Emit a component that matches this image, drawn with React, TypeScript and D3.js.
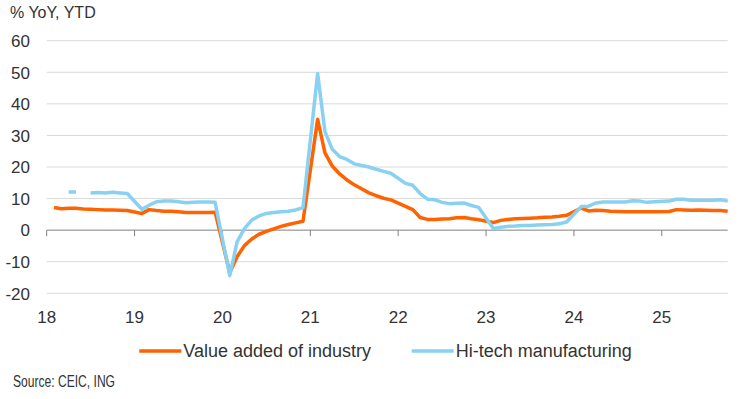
import React from 'react'
import * as d3 from 'd3'

// monthly YTD readings, Feb..Dec each year (Jan is folded into Feb), 2025 runs to Oct
const firstYear = 2018
const yearLabels = ['18', '19', '20', '21', '22', '23', '24', '25']
const yTicks = [-20, -10, 0, 10, 20, 30, 40, 50, 60]

const valueAdded = [
  7.2, 6.8, 6.9, 6.9, 6.7, 6.6, 6.5, 6.4, 6.4, 6.3, 6.2,
  5.3, 6.5, 6.2, 6.0, 6.0, 5.8, 5.6, 5.6, 5.6, 5.6, 5.7,
  -13.5, -8.4, -4.9, -2.8, -1.3, -0.4, 0.4, 1.2, 1.8, 2.3, 2.8,
  35.1, 24.5, 20.3, 17.8, 15.9, 14.4, 13.1, 11.8, 10.9, 10.1, 9.6,
  7.5, 6.5, 4.0, 3.4, 3.4, 3.5, 3.6, 3.9, 4.0, 3.6, 3.3,
  2.4, 3.1, 3.4, 3.6, 3.7, 3.8, 3.9, 4.1, 4.2, 4.4, 4.7,
  7.0, 6.1, 6.3, 6.2, 6.0, 5.9, 5.8, 5.8, 5.8, 5.8, 5.8,
  5.9, 6.5, 6.4, 6.3, 6.4, 6.3, 6.2, 6.2, 6.0,
]

const hiTech: (number | null)[] = [
  null, null, 12.1, 12.1, null, 11.8, 11.9, 11.8, 12.0, 11.8, 11.6,
  6.6, 7.9, 9.0, 9.2, 9.2, 9.0, 8.7, 8.8, 8.9, 8.9, 8.8,
  -14.4, -3.7, 0.5, 3.2, 4.5, 5.3, 5.6, 5.8, 6.0, 6.4, 7.1,
  49.6, 31.2, 25.6, 23.3, 22.4, 21.0, 20.5, 20.0, 19.3, 18.6, 18.0,
  14.8, 14.2, 11.6, 9.8, 9.6, 8.8, 8.4, 8.5, 8.6, 7.8, 7.2,
  0.5, 0.9, 1.2, 1.3, 1.5, 1.5, 1.6, 1.7, 1.8, 2.0, 2.6,
  7.5, 7.6, 8.6, 8.9, 8.9, 8.9, 8.9, 9.3, 9.2, 8.8, 9.0,
  9.2, 9.8, 9.8, 9.5, 9.5, 9.5, 9.5, 9.6, 9.2,
]

const seriesNames = ['Value added of industry', 'Hi-tech manufacturing']
const colors = ['#ff6200', '#89d1f2']

// position in the list -> months since Jan 2018
const monthOf = (i: number) => Math.floor(i / 11) * 12 + 1 + (i % 11)

const App = () => {
  const lastMonth = monthOf(valueAdded.length - 1)
  const x = d3.scaleLinear().domain([0, lastMonth]).range([46.7, 727.7])
  const y = d3.scaleLinear().domain([-20, 60]).range([293.3, 40.7])

  const line = d3
    .line<[number, number | null]>()
    .defined(d => d[1] != null)
    .x(d => x(d[0]))
    .y(d => y(d[1] as number))

  const paths = [valueAdded, hiTech].map(s =>
    line(s.map((v, i) => [monthOf(i), v] as [number, number | null]))
  )

  const font = "'Liberation Sans', Arial, sans-serif"
  const [x0, x1] = x.range()

  return (
    <svg width={750} height={399} style={{ position: 'absolute', left: 0, top: 0 }}
      fontFamily={font} fill="#333">
      <rect width={750} height={399} fill="#fff" />
      <text x={10} y={18} fontSize={16}>% YoY, YTD</text>

      {yTicks.map(t => (
        <g key={t}>
          {t !== 0 && <line x1={x0} x2={x1} y1={y(t)} y2={y(t)} stroke="#d9d9d9" strokeWidth={1} />}
          <text x={30} y={y(t) + 6.3} fontSize={17} textAnchor="end">{t}</text>
        </g>
      ))}

      <line x1={x0} x2={x1} y1={y(0)} y2={y(0)} stroke="#808080" strokeWidth={1} />
      {yearLabels.map((lab, k) => (
        <g key={lab}>
          <line x1={x(k * 12)} x2={x(k * 12)} y1={y(0)} y2={y(0) + 6} stroke="#808080" strokeWidth={1} />
          <text x={x(k * 12)} y={323} fontSize={17} textAnchor="middle">{lab}</text>
        </g>
      ))}

      {paths.map((d, k) => (
        <path key={k} d={d || ''} fill="none" stroke={colors[k]} strokeWidth={3.5}
          strokeLinejoin="round" />
      ))}

      {seriesNames.map((name, k) => {
        const lx = k === 0 ? 139.3 : 411.7
        return (
          <g key={name}>
            <line x1={lx} x2={lx + 42} y1={351} y2={351} stroke={colors[k]} strokeWidth={3.5} />
            <text x={lx + 44} y={357.3} fontSize={18}>{name}</text>
          </g>
        )
      })}

      <text x={13} y={386.5} fontSize={16} fontFamily="'Liberation Sans Narrow', 'Liberation Sans', sans-serif"
        textLength={102} lengthAdjust="spacingAndGlyphs">Source: CEIC, ING</text>
    </svg>
  )
}

export default App
